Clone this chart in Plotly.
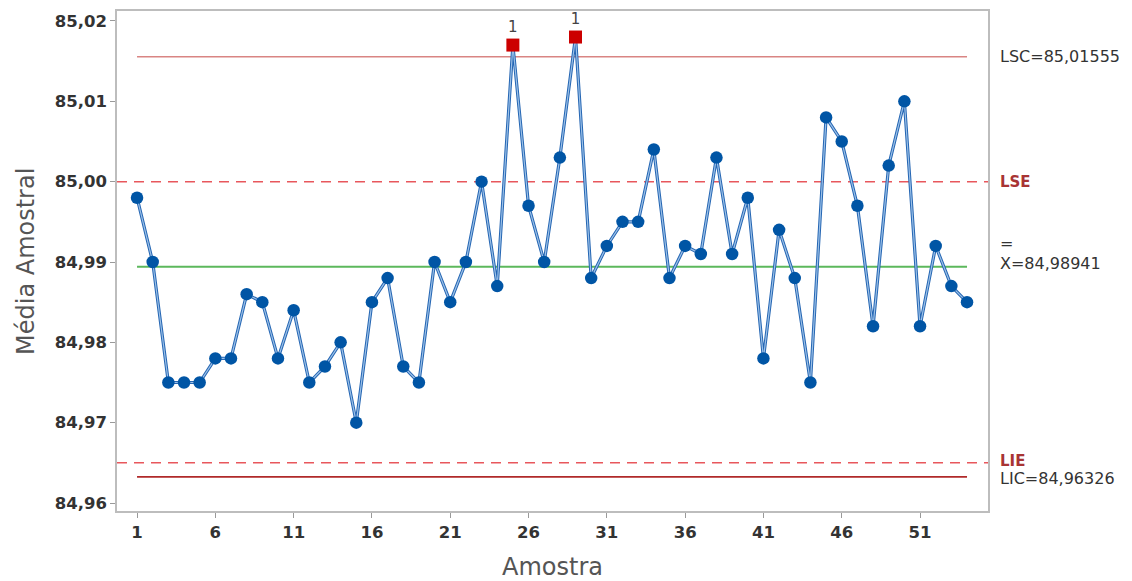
import plotly.graph_objects as go

# ---- data ----
samples = list(range(1, 55))
means = [84.998, 84.990, 84.975, 84.975, 84.975, 84.978, 84.978, 84.986, 84.985, 84.978,
         84.984, 84.975, 84.977, 84.980, 84.970, 84.985, 84.988, 84.977, 84.975, 84.990,
         84.985, 84.990, 85.000, 84.987, 85.017, 84.997, 84.990, 85.003, 85.018, 84.988,
         84.992, 84.995, 84.995, 85.004, 84.988, 84.992, 84.991, 85.003, 84.991, 84.998,
         84.978, 84.994, 84.988, 84.975, 85.008, 85.005, 84.997, 84.982, 85.002, 85.010,
         84.982, 84.992, 84.987, 84.985]
LSC = 85.01555
CENTER = 84.98941
LIC = 84.96326
LSE = 85.00
LIE = 84.965
ytick_vals = [84.96, 84.97, 84.98, 84.99, 85.00, 85.01, 85.02]
ytick_text = ["84,96", "84,97", "84,98", "84,99", "85,00", "85,01", "85,02"]
xtick_vals = [1, 6, 11, 16, 21, 26, 31, 36, 41, 46, 51]

FONT = "DejaVu Sans"

out_x = [s for s, m in zip(samples, means) if m > LSC or m < LIC]
out_y = [m for m in means if m > LSC or m < LIC]
in_x = [s for s, m in zip(samples, means) if LIC <= m <= LSC]
in_y = [m for m in means if LIC <= m <= LSC]

fig = go.Figure()

# control limit lines
fig.add_trace(go.Scatter(x=[samples[0], samples[-1]], y=[LSC, LSC], mode="lines",
                         line=dict(color="#d98583", width=1.5), hoverinfo="skip"))
fig.add_trace(go.Scatter(x=[samples[0], samples[-1]], y=[CENTER, CENTER], mode="lines",
                         line=dict(color="#5cb85c", width=1.8), hoverinfo="skip"))
fig.add_trace(go.Scatter(x=[samples[0], samples[-1]], y=[LIC, LIC], mode="lines",
                         line=dict(color="#b02a2a", width=1.8), hoverinfo="skip"))

# spec lines (full width)
for v in (LSE, LIE):
    fig.add_shape(type="line", xref="paper", x0=0, x1=1, yref="y", y0=v, y1=v,
                  line=dict(color="#e8575c", width=1.5, dash="10px,7px"), layer="below")

# data line (two layers for Minitab-like look)
fig.add_trace(go.Scatter(x=samples, y=means, mode="lines",
                         line=dict(color="#2566b3", width=3.2), hoverinfo="skip"))
fig.add_trace(go.Scatter(x=samples, y=means, mode="lines",
                         line=dict(color="#9cc1e8", width=1.2), hoverinfo="skip"))
fig.add_trace(go.Scatter(x=in_x, y=in_y, mode="markers",
                         marker=dict(symbol="circle", size=12.5, color="#0055a5",
                                     line=dict(width=0))))
fig.add_trace(go.Scatter(x=out_x, y=out_y, mode="markers+text",
                         marker=dict(symbol="square", size=13, color="#cc0000",
                                     line=dict(width=0)),
                         text=["1"] * len(out_x), textposition="top center",
                         textfont=dict(family=FONT, size=15, color="#444")))

ann = []
lab_x = 1.0115
LBL = dict(family=FONT, size=16, color="#333")
RED = dict(family=FONT, size=15, color="#a83434")
ann.append(dict(x=lab_x, y=LSC, xref="paper", yref="y", text="LSC=85,01555",
                xanchor="left", yanchor="middle", showarrow=False, font=LBL))
ann.append(dict(x=lab_x, y=LSE, xref="paper", yref="y", text="<b>LSE</b>",
                xanchor="left", yanchor="middle", showarrow=False, font=RED))
ann.append(dict(x=lab_x, y=CENTER, xref="paper", yref="y", text="=",
                xanchor="left", yanchor="middle", showarrow=False, yshift=23, font=LBL))
ann.append(dict(x=lab_x, y=CENTER, xref="paper", yref="y", text="X=84,98941",
                xanchor="left", yanchor="middle", showarrow=False, yshift=3, font=LBL))
ann.append(dict(x=lab_x, y=LIE, xref="paper", yref="y", text="<b>LIE</b>",
                xanchor="left", yanchor="middle", showarrow=False, yshift=2, font=RED))
ann.append(dict(x=lab_x, y=LIC, xref="paper", yref="y", text="LIC=84,96326",
                xanchor="left", yanchor="middle", showarrow=False, yshift=-2, font=LBL))
# axis titles
ann.append(dict(x=0.5, y=-0.1116, xref="paper", yref="paper", text="Amostra",
                xanchor="center", yanchor="middle", showarrow=False,
                font=dict(family=FONT, size=24, color="#555")))
ann.append(dict(x=-0.1045, y=0.5, xref="paper", yref="paper", text="Média Amostral",
                xanchor="center", yanchor="middle", showarrow=False, textangle=-90,
                font=dict(family=FONT, size=24, color="#555")))

TICKF = dict(family=FONT, size=16.5, color="#333", weight=600)

fig.update_layout(
    width=1124, height=573,
    margin=dict(l=109, r=144, t=1, b=70),
    paper_bgcolor="white", plot_bgcolor="white",
    showlegend=False,
    annotations=ann,
    font=dict(family=FONT),
)
fig.update_xaxes(range=[-0.28, 55.34], tickvals=xtick_vals, ticks="outside", ticklen=5,
                 tickcolor="#999", showgrid=False, zeroline=False,
                 showline=True, linecolor="#bdbdbd", linewidth=1.5, mirror=True,
                 tickfont=TICKF)
fig.update_yaxes(range=[84.95901, 85.02124], tickvals=ytick_vals, ticktext=ytick_text,
                 ticks="outside", ticklen=5, tickcolor="#999", showgrid=False, zeroline=False,
                 showline=True, linecolor="#bdbdbd", linewidth=1.5, mirror=True,
                 tickfont=TICKF)

fig.write_html("out.html")
